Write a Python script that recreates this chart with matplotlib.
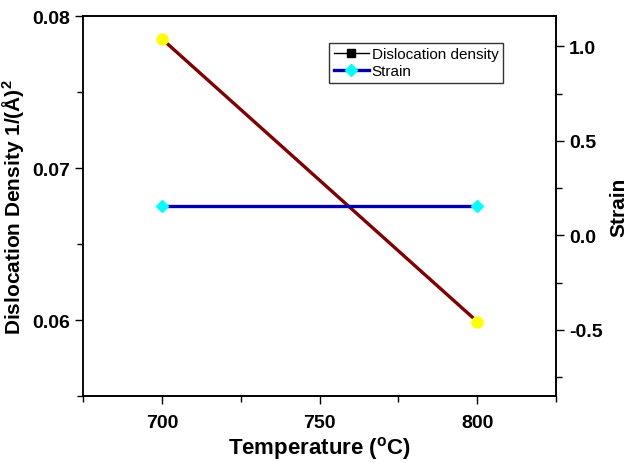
import matplotlib
matplotlib.use('Agg')
import matplotlib.pyplot as plt
from matplotlib.lines import Line2D
from matplotlib.ticker import MultipleLocator

plt.rcParams['font.family'] = ['Liberation Sans', 'DejaVu Sans']
plt.rcParams['mathtext.default'] = 'regular'

temperature = [700, 800]
dislocation = [0.0785, 0.0599]
strain = [0.155, 0.155]

fig = plt.figure(figsize=(6.31, 4.64), dpi=100)
ax = fig.add_axes([83 / 631, 1 - 397 / 464, (556 - 83) / 631, (397 - 17) / 464])
ax2 = ax.twinx()

ax.plot(temperature, dislocation, color='#800000', lw=2.4, marker='o',
        ms=8, mfc='#ffff00', mec='#ffff00', zorder=3)
ax2.plot(temperature, strain, color='#0000a8', lw=2.4, marker='D',
         ms=6, mfc='#00ffff', mec='#00ffff', zorder=3)

ax.set_xlim(675, 825)
ax.set_ylim(0.055, 0.08)
ax2.set_ylim(-0.85, 1.16)

ax.xaxis.set_major_locator(MultipleLocator(50))
ax.xaxis.set_minor_locator(MultipleLocator(25))
ax.yaxis.set_minor_locator(MultipleLocator(0.005))
ax2.yaxis.set_minor_locator(MultipleLocator(0.25))
ax.set_yticks([0.06, 0.07, 0.08])
ax.set_yticklabels(['0.06', '0.07', '0.08'])
ax2.set_yticks([-0.5, 0.0, 0.5, 1.0])
ax2.set_yticklabels(['-0.5', '0.0', '0.5', '1.0'])

for a in (ax, ax2):
    a.tick_params(which='major', direction='out', length=6, width=1, labelsize=14)
    a.tick_params(which='minor', direction='out', length=4, width=1)
    for s in a.spines.values():
        s.set_linewidth(1.2)
for lbl in ax.get_xticklabels() + ax.get_yticklabels() + ax2.get_yticklabels():
    lbl.set_fontweight('bold')
ax.tick_params(axis='x', pad=7)
ax.spines['left'].set_color('#444444')

ax.set_xlabel('Temperature ($^{o}$C)', fontsize=16, fontweight='bold', labelpad=2)
ax.set_ylabel('Dislocation Density 1/(Å)$^{2}$', fontsize=15, fontweight='bold', labelpad=4)
ax2.set_ylabel('Strain', fontsize=15, fontweight='bold', labelpad=5)

handles = [
    Line2D([], [], color='black', lw=1, marker='s', ms=6, mfc='black', mec='black'),
    Line2D([], [], color='#0000a8', lw=2.4, marker='D', ms=6, mfc='#00ffff', mec='#00ffff'),
]
leg = ax2.legend(handles, ['Dislocation density', 'Strain'], loc='upper left',
                 bbox_to_anchor=(0.52, 0.93), fontsize=11, frameon=True, fancybox=False,
                 edgecolor='black', borderpad=0.3, handlelength=2.3, handletextpad=0.2,
                 labelspacing=0.2, borderaxespad=0)
leg.get_frame().set_linewidth(1)

plt.savefig('out.png', dpi=100)
